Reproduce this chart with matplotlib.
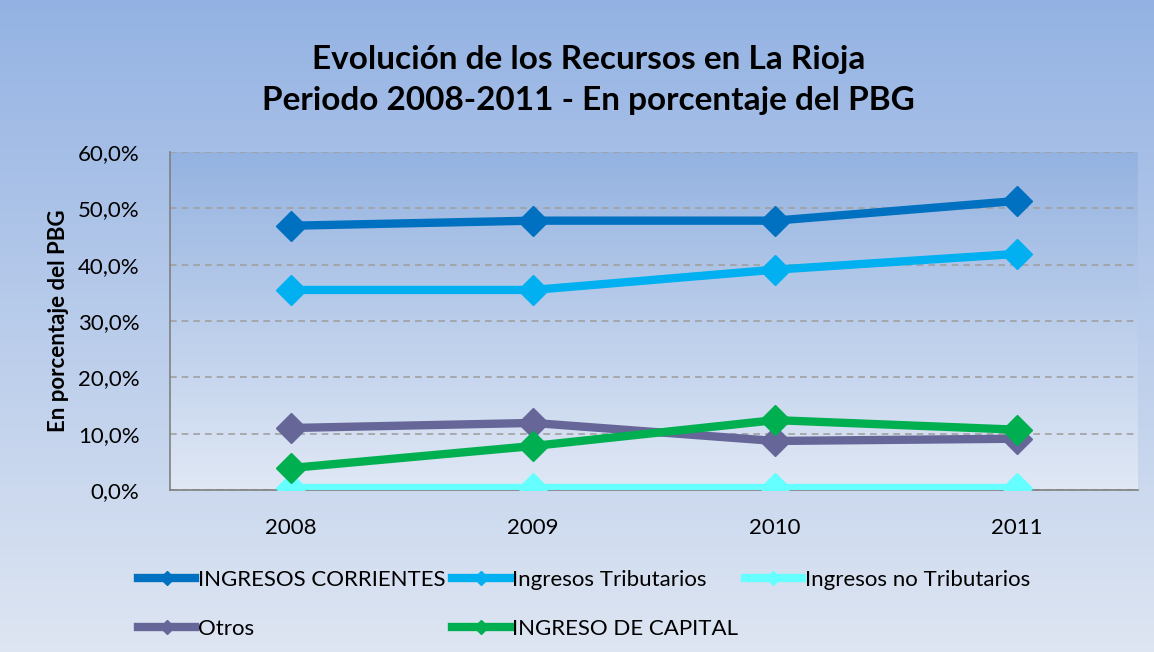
import numpy as np
import matplotlib.pyplot as plt
from matplotlib.ticker import FuncFormatter

plt.rcParams['font.family'] = ['Lato', 'DejaVu Sans']

years = ['2008', '2009', '2010', '2011']
ingresos_corrientes = [46.9, 47.8, 47.8, 51.3]
ingresos_tributarios = [35.5, 35.5, 39.1, 41.9]
ingresos_no_tributarios = [0.3, 0.3, 0.3, 0.3]
otros = [11.0, 11.9, 8.7, 9.1]
ingreso_capital = [3.9, 7.8, 12.4, 10.7]

series = [
    ('INGRESOS CORRIENTES', ingresos_corrientes, '#0070C0'),
    ('Ingresos Tributarios', ingresos_tributarios, '#00B0F0'),
    ('Ingresos no Tributarios', ingresos_no_tributarios, '#66FFFF'),
    ('Otros', otros, '#666699'),
    ('INGRESO DE CAPITAL', ingreso_capital, '#00B050'),
]

fig = plt.figure(figsize=(11.54, 6.52), dpi=100)

# figure background gradient
bg = fig.add_axes([0, 0, 1, 1], zorder=-10)
grad = np.linspace(0, 1, 256).reshape(-1, 1)
top = np.array([0.58, 0.70, 0.89])
bot = np.array([0.87, 0.90, 0.95])
img = top + (bot - top) * grad[..., None]
bg.imshow(img, aspect='auto', extent=[0, 1, 0, 1])
bg.axis('off')

ax = fig.add_axes([0.1473, 0.2485, 0.8387, 0.5185])
ax.set_facecolor('none')
top2 = np.array([0.58, 0.70, 0.88])
bot2 = np.array([0.88, 0.91, 0.96])
img2 = top2 + (bot2 - top2) * grad[..., None]
ax.imshow(img2, aspect='auto', extent=[-0.5, 3.5, 0, 60], zorder=0)

x = np.arange(len(years))
handles = {}
for name, vals, col in series:
    h, = ax.plot(x, vals, color=col, lw=6, marker='D', markersize=15,
                 label=name, zorder=3)
    handles[name] = h

ax.set_xlim(-0.5, 3.5)
ax.set_ylim(0, 60)
ax.set_yticks(np.arange(0, 61, 10))
ax.yaxis.set_major_formatter(FuncFormatter(lambda v, p: f'{v:.1f}%'.replace('.', ',')))
ax.set_xticks(x)
ax.set_xticklabels(years)
ax.tick_params(axis='both', labelsize=16, length=0)
ax.tick_params(axis='y', pad=22)
ax.tick_params(axis='x', pad=20)
ax.grid(axis='y', color='#A0A0A0', linestyle=(0, (4, 3)), lw=1.2, zorder=1)
for s in ['top', 'right']:
    ax.spines[s].set_visible(False)
for s in ['left', 'bottom']:
    ax.spines[s].set_color('#808080')
    ax.spines[s].set_linewidth(1.2)
ax.set_ylabel('En porcentaje del PBG', fontsize=16, fontweight='bold', labelpad=6)

fig.text(0.51, 0.877, 'Evolución de los Recursos en La Rioja\nPeriodo 2008-2011 - En porcentaje del PBG',
         ha='center', va='center', fontsize=24, fontweight='bold', linespacing=1.5)

order = ['INGRESOS CORRIENTES', 'Otros', 'Ingresos Tributarios',
         'INGRESO DE CAPITAL', 'Ingresos no Tributarios']
fig.legend([handles[n] for n in order], order, ncol=3, loc='upper left',
           bbox_to_anchor=(0.102, 0.157), frameon=False, fontsize=16,
           markerscale=0.45, handlelength=2.6, handletextpad=0.1,
           columnspacing=0.3, labelspacing=1.3)

fig.savefig('out.png', dpi=100)
